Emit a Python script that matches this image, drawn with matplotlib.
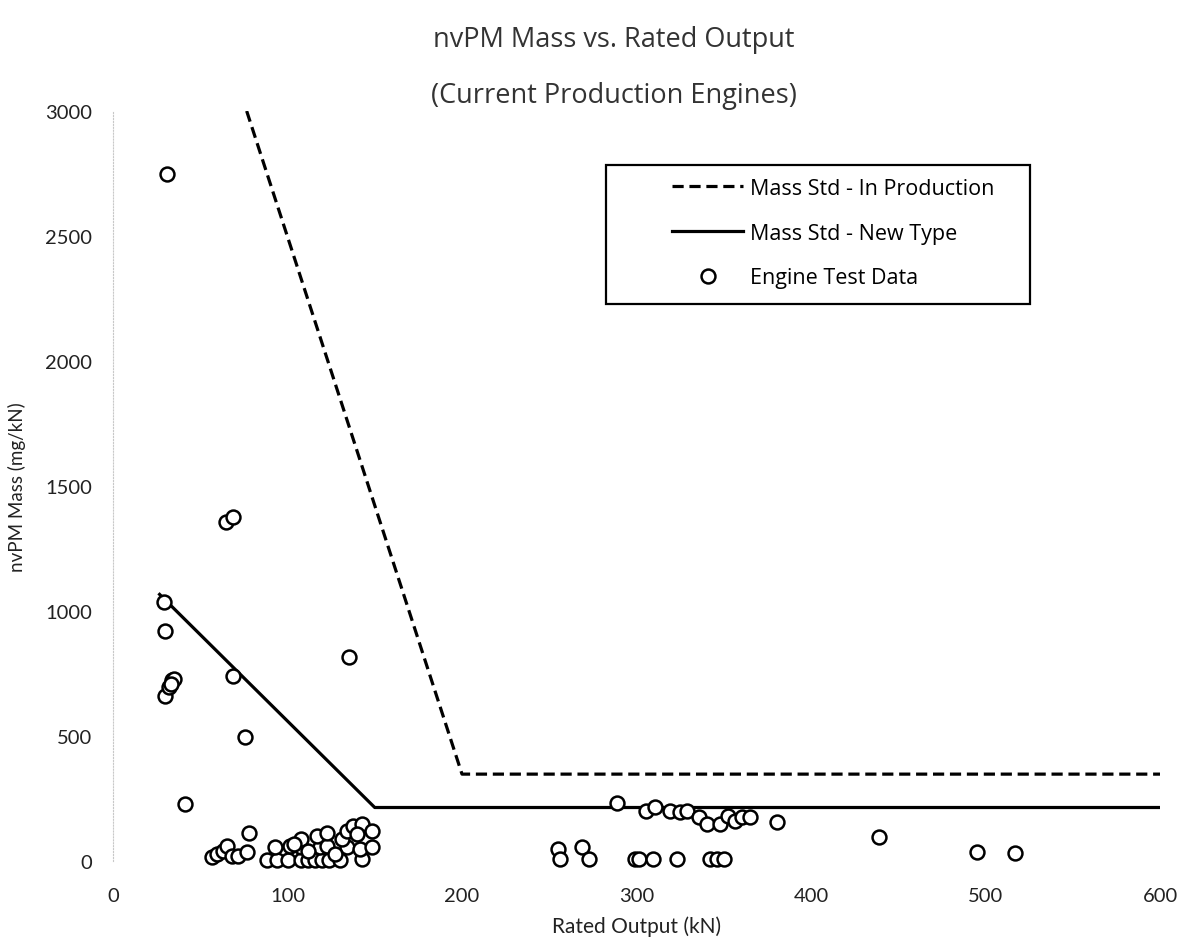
import matplotlib
matplotlib.use("Agg")
import matplotlib.pyplot as plt
from matplotlib.patches import Rectangle

plt.rcParams['font.family'] = ['Lato', 'DejaVu Sans']

# Standard lines (vertices)
std_prod_x = [76.6, 200, 600]
std_prod_y = [3000, 347.5, 347.5]
std_new_x = [26.7, 150, 600]
std_new_y = [1066.5, 214, 214]

# Engine test data (Rated output kN, nvPM mass mg/kN)
eng_x = [31, 29, 30, 30, 32, 34, 35, 33, 41.5,
         65, 69, 69, 75.5, 135, 78,
         56.7, 59.6, 63, 65.3, 68.2, 71.6, 76.8,
         88, 94, 100, 108, 112, 116, 120, 124, 130, 142.7,
         93, 101.4, 108, 118.6, 122.6, 134, 141.5, 148.4,
         108, 117, 122.6, 131, 134,
         137.5, 142.7, 148.4, 140, 104, 112, 127,
         288.8, 305.4, 310.6, 319.2, 325, 328.9, 335.8, 340.4, 347.9,
         352.4, 356.4, 360.5, 365, 380.5,
         255, 256, 268.8, 272.8, 299, 301.5, 309.5, 323, 342, 346, 350,
         439, 495, 517]
eng_y = [2750, 1036, 920, 660, 695, 725, 730, 710, 230,
         1356, 1376, 740, 496, 816, 112,
         16, 28, 40, 60, 20, 20, 36,
         5, 5, 5, 5, 5, 5, 5, 5, 5, 8,
         56, 60, 56, 56, 60, 56, 48, 56,
         88, 100, 112, 88, 120,
         140, 148, 120, 108, 70, 40, 30,
         232, 200, 216, 200, 196, 200, 176, 148, 148,
         180, 160, 176, 176, 156,
         48, 8, 56, 8, 8, 8, 8, 8, 8, 8, 8,
         96, 36, 32]

x_ticks = [0, 100, 200, 300, 400, 500, 600]
y_ticks = [0, 500, 1000, 1500, 2000, 2500, 3000]

fig = plt.figure(figsize=(11.85, 9.45), dpi=100)
ax = fig.add_axes([113/1185, 1-862/945, (1160-113)/1185, (862-112)/945])

ax.plot(std_prod_x, std_prod_y, color='black', lw=2.3, linestyle=(0, (3.5, 1.8)),
        label='Mass Std - In Production', zorder=2)
ax.plot(std_new_x, std_new_y, color='black', lw=2.3, label='Mass Std - New Type', zorder=2)
ax.plot(eng_x, eng_y, linestyle='none', marker='o', markersize=10, markerfacecolor='white',
        markeredgecolor='black', markeredgewidth=1.8, label='Engine Test Data', zorder=3,
        clip_on=False)

ax.set_xlim(0, 600)
ax.set_ylim(0, 3000)
ax.set_xticks(x_ticks)
ax.set_yticks(y_ticks)
ax.tick_params(length=0, labelsize=14.5, colors='#222222')
ax.tick_params(axis='x', pad=19)
ax.tick_params(axis='y', pad=15)
for s in ['top', 'right', 'bottom']:
    ax.spines[s].set_visible(False)
ax.spines['left'].set_color('#c8c8c8')
ax.spines['left'].set_linestyle(':')
ax.spines['left'].set_linewidth(0.8)

ax.set_xlabel('Rated Output (kN)', fontsize=15, labelpad=8, color='#222222')
ax.set_ylabel('nvPM Mass (mg/kN)', fontsize=13.5, labelpad=14, color='#222222')

fig.text(614/1185, 1-40/945, 'nvPM Mass vs. Rated Output', ha='center', va='center',
         fontsize=19.5, color='#333333', fontfamily=['Open Sans', 'DejaVu Sans'])
fig.text(614/1185, 1-96/945, '(Current Production Engines)', ha='center', va='center',
         fontsize=19.5, color='#333333', fontfamily=['Open Sans', 'DejaVu Sans'])

# Legend frame
fig.patches.append(Rectangle((606/1185, 1-305/945), (1030-606)/1185, (305-166)/945,
                             transform=fig.transFigure, fill=False, edgecolor='black',
                             linewidth=1.6, zorder=5))
leg = ax.legend(loc='upper left', bbox_to_anchor=(672/1185, 1-179/945),
                bbox_transform=fig.transFigure, frameon=False,
                prop={'family': ['Open Sans', 'DejaVu Sans'], 'size': 15.5},
                borderpad=0, borderaxespad=0, handlelength=3.3, handletextpad=0.3,
                labelspacing=1.1, numpoints=1)

fig.savefig('out.png', dpi=100)
